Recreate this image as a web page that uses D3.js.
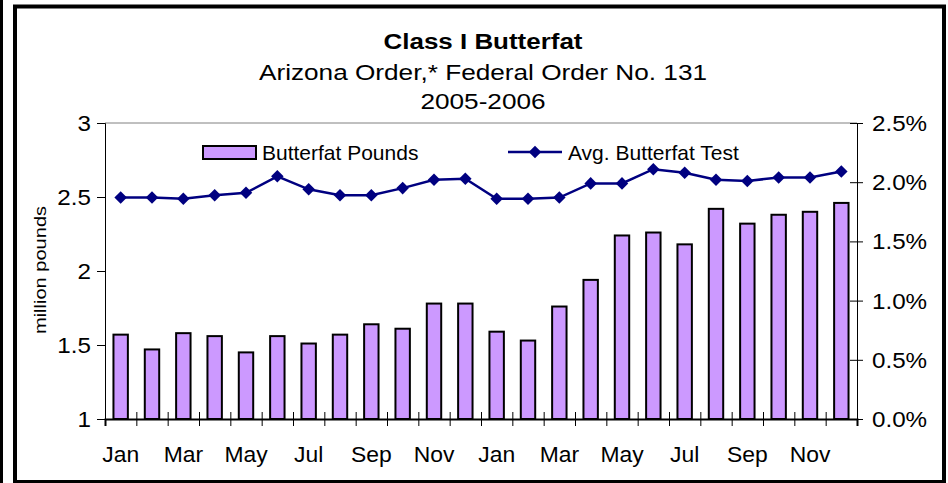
<!DOCTYPE html>
<html>
<head>
<meta charset="utf-8">
<script src="https://cdn.jsdelivr.net/npm/d3@7"></script>
<style>
  body { margin: 0; background: #fff; }
  text { font-family: "Liberation Sans", Arial, sans-serif; fill: #000; }
</style>
</head>
<body>
<div id="chart"></div>
<script>
// data
var monthNames = ["Jan", "Feb", "Mar", "Apr", "May", "Jun", "Jul", "Aug", "Sep", "Oct", "Nov", "Dec"];
var years = ["2005", "2006"];
var categories = years.flatMap(y => monthNames.map(m => m + " " + y));

// Butterfat pounds, million pounds
var pounds = [1.57, 1.47, 1.58, 1.56, 1.45, 1.56, 1.51, 1.57, 1.64, 1.61, 1.78, 1.78,
              1.59, 1.53, 1.76, 1.94, 2.24, 2.26, 2.18, 2.42, 2.32, 2.38, 2.40, 2.46];
// Avg. butterfat test, percent
var fatTest = [1.87, 1.87, 1.86, 1.89, 1.91, 2.05, 1.94, 1.89, 1.89, 1.95, 2.02, 2.03,
               1.86, 1.86, 1.87, 1.99, 1.99, 2.11, 2.08, 2.02, 2.01, 2.04, 2.04, 2.09];

var leftTicks = [1, 1.5, 2, 2.5, 3];
var rightTicks = [0, 0.5, 1.0, 1.5, 2.0, 2.5];

var W = 948, H = 483;
var plot = { left: 105, right: 857, top: 123, bottom: 419 };

var svg = d3.select("#chart")
    .append("svg")
    .attr("width", W)
    .attr("height", H);

// outer frame
svg.append("rect").attr("x", 0).attr("y", 0).attr("width", 3).attr("height", H).attr("fill", "#000");
svg.append("rect")
    .attr("x", 15).attr("y", 6.5)
    .attr("width", 929).attr("height", 475.5)
    .attr("fill", "#fff")
    .attr("stroke", "#000")
    .attr("stroke-width", 4);

// text helper: the reference font runs a bit wider than Arial
function label(x, y, str, size, sx, anchor, weight) {
    return svg.append("text")
        .attr("transform", "translate(" + x + "," + y + ") scale(" + sx + ",1)")
        .attr("text-anchor", anchor || "start")
        .style("font-size", size + "px")
        .style("font-weight", weight || "normal")
        .text(str);
}

// titles
label(483, 49, "Class I Butterfat", 22, 1.18, "middle", "bold");
label(483, 80, "Arizona Order,* Federal Order No. 131", 22, 1.19, "middle");
label(483, 109, "2005-2006", 22, 1.19, "middle");

// scales
var x = d3.scaleBand()
    .domain(categories)
    .range([plot.left, plot.right])
    .paddingInner(0.54)
    .paddingOuter(0.27);
var xEdge = d3.scaleLinear().domain([0, categories.length]).range([plot.left, plot.right]);
var y = d3.scaleLinear().domain([1, 3]).range([plot.bottom, plot.top]);
var y2 = d3.scaleLinear().domain([0, 2.5]).range([plot.bottom, plot.top]);

// top edge of plot area
svg.append("line")
    .attr("x1", plot.left).attr("x2", plot.right)
    .attr("y1", plot.top).attr("y2", plot.top)
    .attr("stroke", "#808080");

// bars
svg.selectAll("rect.bar")
    .data(pounds)
    .enter()
    .append("rect")
    .attr("class", "bar")
    .attr("x", (d, i) => x(categories[i]))
    .attr("width", x.bandwidth())
    .attr("y", d => y(d))
    .attr("height", d => y(1) - y(d))
    .attr("fill", "#CC99FF")
    .attr("stroke", "#000")
    .attr("stroke-width", 2);

// left axis
var gl = svg.append("g")
    .attr("transform", "translate(" + plot.left + ",0)")
    .call(d3.axisLeft(y).tickValues(leftTicks).tickSize(8).tickFormat(""));
gl.select(".domain").attr("stroke", "#000");
leftTicks.forEach(t => label(91, y(t) + 8, d3.format("")(t), 22, 1.1, "end"));

// right axis, ticks cross the line
var gr = svg.append("g")
    .attr("transform", "translate(" + plot.right + ",0)")
    .call(d3.axisRight(y2).tickValues(rightTicks).tickSize(6).tickFormat(""));
gr.selectAll(".tick line").attr("x1", -7);
rightTicks.forEach(t => label(872, y2(t) + 8, d3.format(".1f")(t) + "%", 22, 1.1, "start"));

// bottom axis, ticks on category edges
var gb = svg.append("g")
    .attr("transform", "translate(0," + plot.bottom + ")")
    .call(d3.axisBottom(xEdge).tickValues(d3.range(categories.length + 1)).tickSize(7).tickFormat(""));
gb.selectAll(".tick line").attr("y1", -7);
gb.select(".domain").attr("stroke-width", 2);
categories.forEach((c, i) => {
    if (i % 2 === 0) label(x(c) + x.bandwidth() / 2, 462, monthNames[i % 12], 22, 1.04, "middle");
});

// y axis title
svg.append("text")
    .attr("transform", "translate(46,270) rotate(-90) scale(1.18,1)")
    .attr("text-anchor", "middle")
    .style("font-size", "17px")
    .text("million pounds");

// line series
var diamond = d3.symbol().type(d3.symbolDiamond2).size(100);
var line = d3.line()
    .x((d, i) => x(categories[i]) + x.bandwidth() / 2)
    .y(d => y2(d));
svg.append("path")
    .datum(fatTest)
    .attr("d", line)
    .attr("fill", "none")
    .attr("stroke", "#000080")
    .attr("stroke-width", 2.5);
svg.selectAll("path.marker")
    .data(fatTest)
    .enter()
    .append("path")
    .attr("class", "marker")
    .attr("d", diamond)
    .attr("transform", (d, i) => "translate(" + (x(categories[i]) + x.bandwidth() / 2) + "," + y2(d) + ")")
    .attr("fill", "#000080");

// legend
svg.append("rect")
    .attr("x", 203).attr("y", 146)
    .attr("width", 53).attr("height", 13)
    .attr("fill", "#CC99FF")
    .attr("stroke", "#000")
    .attr("stroke-width", 2);
label(262, 160, "Butterfat Pounds", 20, 1.05, "start");
svg.append("line")
    .attr("x1", 508).attr("x2", 562)
    .attr("y1", 152).attr("y2", 152)
    .attr("stroke", "#000080")
    .attr("stroke-width", 2.5);
svg.append("path")
    .attr("d", diamond)
    .attr("transform", "translate(535,152)")
    .attr("fill", "#000080");
label(568, 160, "Avg. Butterfat Test", 20, 1.05, "start");
</script>
</body>
</html>
